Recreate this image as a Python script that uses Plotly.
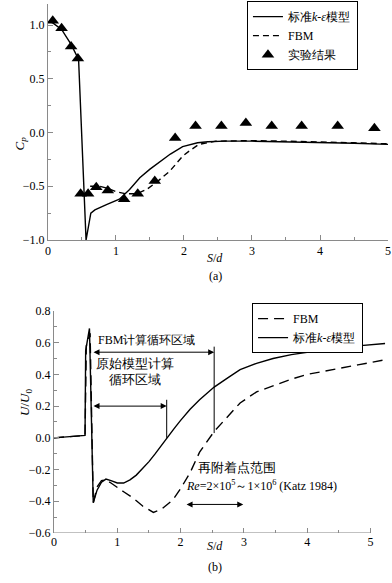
import plotly.graph_objects as go

# ---------------- (a) pressure coefficient ----------------
a_ke_x = [0.03, 0.07, 0.2, 0.34, 0.45, 0.56, 0.63, 0.69, 0.86, 1.05, 1.2, 1.35, 1.5, 1.65, 1.8, 1.98, 2.1, 2.2, 2.35, 2.6, 3.0, 3.5, 4.0, 4.5, 5.0]
a_ke_y = [1.03, 1.02, 0.96, 0.82, 0.68, -1.0, -0.75, -0.72, -0.67, -0.62, -0.53, -0.42, -0.34, -0.27, -0.20, -0.13, -0.11, -0.095, -0.085, -0.08, -0.08, -0.085, -0.09, -0.10, -0.11]

a_fbm_x = [0.62, 0.76, 0.88, 1.0, 1.15, 1.3, 1.45, 1.6, 1.79, 1.98, 2.08, 2.22, 2.47, 3.0, 3.5, 4.0, 4.5, 5.0]
a_fbm_y = [-0.50, -0.50, -0.52, -0.55, -0.57, -0.57, -0.53, -0.46, -0.36, -0.22, -0.17, -0.11, -0.08, -0.075, -0.08, -0.085, -0.095, -0.105]

a_exp_x = [0.07, 0.2, 0.34, 0.44, 0.48, 0.59, 0.71, 0.88, 1.12, 1.32, 1.57, 1.87, 2.17, 2.55, 2.91, 3.29, 3.73, 4.26, 4.8]
a_exp_y = [1.04, 0.97, 0.80, 0.69, -0.57, -0.57, -0.51, -0.54, -0.62, -0.57, -0.45, -0.05, 0.06, 0.06, 0.09, 0.06, 0.06, 0.06, 0.04]

# ---------------- (b) velocity ----------------
b_ke_x = [0, 0.49, 0.50, 0.56, 0.62, 0.68, 0.75, 0.82, 0.9, 1.0, 1.1, 1.2, 1.3, 1.4, 1.5, 1.6, 1.7, 1.78, 1.9, 2.0, 2.15, 2.3, 2.53, 2.75, 2.94, 3.2, 3.46, 3.75, 4.0, 4.25, 4.52, 4.8, 5.0, 5.23]
b_ke_y = [0, 0.015, 0.55, 0.69, -0.41, -0.33, -0.28, -0.26, -0.27, -0.285, -0.285, -0.265, -0.235, -0.195, -0.15, -0.10, -0.045, 0.0, 0.06, 0.11, 0.18, 0.24, 0.32, 0.38, 0.43, 0.47, 0.50, 0.525, 0.54, 0.555, 0.57, 0.58, 0.585, 0.595]

b_fbm_x = [0, 0.49, 0.51, 0.57, 0.62, 0.68, 0.75, 0.82, 0.9, 1.0, 1.1, 1.25, 1.4, 1.57, 1.7, 1.88, 2.0, 2.15, 2.3, 2.53, 2.75, 2.94, 3.2, 3.46, 3.75, 4.0, 4.25, 4.52, 4.8, 5.2]
b_fbm_y = [0, 0.015, 0.58, 0.66, -0.41, -0.31, -0.27, -0.265, -0.285, -0.31, -0.34, -0.38, -0.43, -0.47, -0.45, -0.39, -0.32, -0.22, -0.09, 0.04, 0.14, 0.22, 0.29, 0.33, 0.37, 0.40, 0.42, 0.44, 0.46, 0.49]

FONT = "Liberation Serif"
AX = "#8a8a8a"
KE_NAME = "标准<i>k</i>-<i>ε</i>模型"

fig = go.Figure()
fig.add_trace(go.Scatter(x=a_ke_x, y=a_ke_y, mode="lines", name=KE_NAME,
                         line=dict(color="black", width=1.4), xaxis="x", yaxis="y", legend="legend"))
fig.add_trace(go.Scatter(x=a_fbm_x, y=a_fbm_y, mode="lines", name="FBM",
                         line=dict(color="black", width=1.4, dash="6px,4px"), xaxis="x", yaxis="y", legend="legend"))
fig.add_trace(go.Scatter(x=a_exp_x, y=a_exp_y, mode="markers", name="实验结果",
                         marker=dict(symbol="triangle-up", size=11, color="black"), xaxis="x", yaxis="y", legend="legend"))

fig.add_trace(go.Scatter(x=b_fbm_x, y=b_fbm_y, mode="lines", name="FBM",
                         line=dict(color="black", width=1.4, dash="10px,6px"), xaxis="x2", yaxis="y2", legend="legend2"))
fig.add_trace(go.Scatter(x=b_ke_x, y=b_ke_y, mode="lines", name=KE_NAME,
                         line=dict(color="black", width=1.4), xaxis="x2", yaxis="y2", legend="legend2"))

tickfont = dict(family=FONT, size=12, color="black")
common = dict(showgrid=False, zeroline=False, ticks="inside", ticklen=5, tickcolor=AX,
              tickfont=tickfont, linecolor=AX, linewidth=1, automargin=False)

fig.update_layout(
    width=392, height=583,
    margin=dict(l=0, r=0, t=0, b=0, autoexpand=False),
    paper_bgcolor="white", plot_bgcolor="white",
    font=dict(family=FONT, size=12, color="black"),
    xaxis=dict(domain=[0.1224, 0.9898], anchor="y", range=[0, 5], tickvals=[0, 1, 2, 3, 4, 5],
               showline=True, minor=dict(dtick=0.5, ticklen=3, tickcolor=AX, ticks="inside"), **common),
    yaxis=dict(domain=[0.5883, 0.9938], anchor="x", range=[-1, 1.2], tickvals=[-1, -0.5, 0, 0.5, 1.0],
               tickformat=".1f", showline=True,
               minor=dict(dtick=0.25, ticklen=3, tickcolor=AX, ticks="inside"), **common),
    xaxis2=dict(domain=[0.1378, 0.9936], anchor="y2", range=[0, 5.3], tickvals=[0, 1, 2, 3, 4, 5],
                showline=False, minor=dict(tickvals=[0.5, 1.5, 2.5, 3.5, 4.5], ticklen=3, tickcolor=AX, ticks="inside"), **common),
    yaxis2=dict(domain=[0.0858, 0.4666], anchor="x2", range=[-0.6, 0.8],
                tickvals=[-0.6, -0.4, -0.2, 0, 0.2, 0.4, 0.6, 0.8], tickformat=".1f", showline=True,
                minor=dict(dtick=0.1, ticklen=3, tickcolor=AX, ticks="inside"), **common),
    legend=dict(x=0.630, y=0.998, xanchor="left", yanchor="top", bordercolor="black", borderwidth=1,
                bgcolor="white", font=dict(family=FONT, size=12), tracegroupgap=0),
    legend2=dict(x=0.643, y=0.480, xanchor="left", yanchor="top", bordercolor="black", borderwidth=1,
                 bgcolor="white", font=dict(family=FONT, size=12), tracegroupgap=0),
    showlegend=True,
)

shapes = [
    dict(type="line", xref="x2", yref="y2", x0=0, x1=5, y0=-0.6, y1=-0.6, line=dict(color=AX, width=1)),
    dict(type="line", xref="x2", yref="y2", x0=2.53, x1=2.53, y0=0.575, y1=0.03, line=dict(color="black", width=1)),
    dict(type="line", xref="x2", yref="y2", x0=1.78, x1=1.78, y0=0.24, y1=0.0, line=dict(color="black", width=1)),
]
fig.update_layout(shapes=shapes)

def px_to_paper_y(py):
    return (583 - py) / 583

def px_to_paper_x(px):
    return px / 392

ann = []
ann.append(dict(text="<i>C<sub>p</sub></i>", x=px_to_paper_x(9), y=px_to_paper_y(135), xref="paper", yref="paper",
                showarrow=False, textangle=-90, font=dict(family=FONT, size=13)))
ann.append(dict(text="<i>U</i>/<i>U</i><sub>0</sub>", x=px_to_paper_x(15), y=px_to_paper_y(418), xref="paper", yref="paper",
                showarrow=False, textangle=-90, font=dict(family=FONT, size=13)))
ann.append(dict(text="<i>S</i>/<i>d</i>", x=px_to_paper_x(215), y=px_to_paper_y(258), xref="paper", yref="paper",
                showarrow=False, font=dict(family=FONT, size=12)))
ann.append(dict(text="(a)", x=px_to_paper_x(215), y=px_to_paper_y(276), xref="paper", yref="paper",
                showarrow=False, font=dict(family=FONT, size=12)))
ann.append(dict(text="<i>S</i>/<i>d</i>", x=px_to_paper_x(215), y=px_to_paper_y(555), xref="paper", yref="paper",
                showarrow=False, font=dict(family=FONT, size=12)))
ann.append(dict(text="(b)", x=px_to_paper_x(215), y=px_to_paper_y(576), xref="paper", yref="paper",
                showarrow=False, font=dict(family=FONT, size=12)))

ann.append(dict(text="FBM计算循环区域", x=px_to_paper_x(146), y=px_to_paper_y(340), xref="paper", yref="paper",
                showarrow=False, font=dict(family=FONT, size=12)))
ann.append(dict(text="原始模型计算<br>循环区域", x=px_to_paper_x(135), y=px_to_paper_y(389), xref="paper", yref="paper",
                showarrow=False, font=dict(family=FONT, size=12.5)))
ann.append(dict(text="再附着点范围", x=px_to_paper_x(237), y=px_to_paper_y(477), xref="paper", yref="paper",
                showarrow=False, font=dict(family=FONT, size=12.5)))
ann.append(dict(text="<i>Re</i>=2×10<sup>5</sup>～1×10<sup>6</sup> (Katz 1984)", x=px_to_paper_x(184), y=px_to_paper_y(495),
                xref="paper", yref="paper", xanchor="left", showarrow=False, font=dict(family=FONT, size=12)))

for (x0, x1, yv) in [(0.6, 2.53, 0.54), (0.6, 1.78, 0.2), (2.07, 2.99, -0.42)]:
    ann.append(dict(x=x1, y=yv, ax=x0, ay=yv, xref="x2", yref="y2", axref="x2", ayref="y2", text="",
                    showarrow=True, arrowhead=2, arrowside="end+start", arrowsize=1.2, arrowwidth=1, arrowcolor="black"))

fig.update_layout(annotations=ann)
fig.write_html("out.html", config={"displayModeBar": False},
               post_script="document.body.style.margin='0';document.body.style.padding='0';")
